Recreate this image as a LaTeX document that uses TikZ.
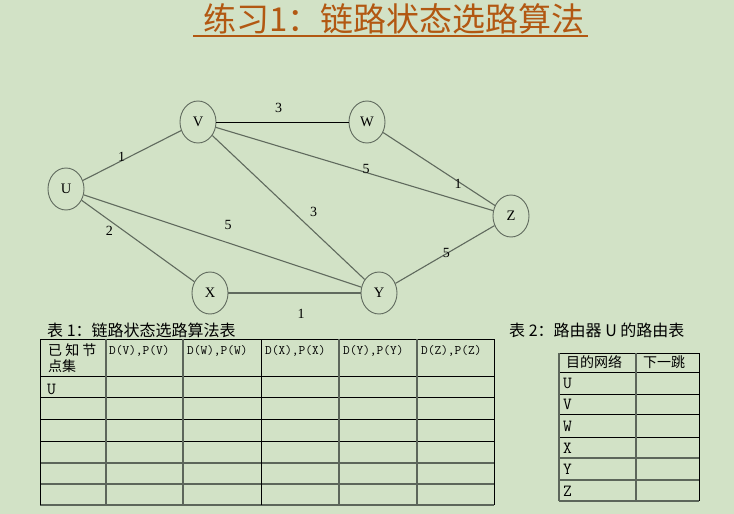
\documentclass[tikz,border=0pt]{standalone}
\usepackage{fontspec}
\setmainfont{Liberation Serif}
\newfontfamily\cjk{Noto Sans CJK SC}
\usepackage{tikz}
\usetikzlibrary{shapes.geometric}
\definecolor{bgcolor}{RGB}{210,226,198}
\definecolor{titlecolor}{RGB}{178,88,18}
\definecolor{edgegray}{RGB}{96,106,94}
\definecolor{griddark}{RGB}{92,102,90}

\begin{document}
\begin{tikzpicture}[x=1pt, y=-1pt,
    router/.style={ellipse, draw=edgegray, line width=0.9pt, minimum width=36pt,
        minimum height=42pt, inner sep=0pt, font=\fontsize{14.5}{14.5}\selectfont},
    link/.style={draw=edgegray, line width=1.1pt},
    weight/.style={inner sep=0pt, font=\fontsize{14}{14}\selectfont},
    gridblack/.style={draw=black, line width=0.9pt},
    griddark/.style={draw=griddark, line width=1.3pt},
    caption/.style={anchor=west, inner sep=0pt, font=\cjk\fontsize{16}{16}\selectfont},
    cell/.style={anchor=west, inner sep=0pt, font=\cjk\fontsize{14}{14}\selectfont},
    colhead/.style={anchor=west, inner sep=0pt, font=\ttfamily\fontsize{13}{13}\selectfont},
    rowname/.style={anchor=west, inner sep=0pt, font=\ttfamily\fontsize{17}{17}\selectfont}]

    % Background
    \fill[bgcolor] (0,0) rectangle (734,514);
    \useasboundingbox (0,0) rectangle (734,514);

    % Title
    \node[inner sep=0pt, text=titlecolor, font=\cjk\fontsize{33}{33}\selectfont]
        (title) at (394,18.5) {练习1：链路状态选路算法};
    \draw[titlecolor, line width=1.6pt] ([xshift=-10pt,yshift=-2pt]title.south west)
        -- ([xshift=3pt,yshift=-2pt]title.south east);

    % Routers
    \node[router] (U) at (66,189) {U};
    \node[router] (V) at (198,122) {V};
    \node[router] (W) at (367,122) {W};
    \node[router] (X) at (210,293) {X};
    \node[router] (Y) at (379,293) {Y};
    \node[router] (Z) at (511,216) {Z};

    % Links with costs
    \draw[link] (U) -- node[weight, pos=0.41, shift={(-1.6,-3.2)}] {1} (V);
    \draw[link] (U) -- node[weight, pos=0.29, shift={(-5,7)}] {2} (X);
    \draw[link] (U) -- node[weight, pos=0.5, shift={(5.5,-16.4)}] {5} (Y);
    \draw[black, line width=0.8pt] (V) -- node[weight, pos=0.47, shift={(0,-14)}] {3} (W);
    \draw[link] (V) -- node[weight, pos=0.54, shift={(0.5,-3)}] {5} (Z);
    \draw[link] (V) -- node[weight, pos=0.6, shift={(9.8,-10.4)}] {3} (Y);
    \draw[link] (W) -- node[weight, pos=0.68, shift={(-1,2)}] {1} (Z);
    \draw[link] (X) -- node[weight, pos=0.55, shift={(0,21)}] {1} (Y);
    \draw[link] (Y) -- node[weight, pos=0.51, shift={(0.5,-1)}] {5} (Z);

    % Table 1
    \node[caption] (cap1) at (47,330) {表 1：链路状态选路算法表};
    \foreach \y in {339,376,397,419,441}
        \draw[gridblack] (40,\y) -- (494,\y);
    \foreach \y in {463,484,505}
        \draw[griddark] (40,\y) -- (494,\y);
    \foreach \x in {40,261,494}
        \draw[gridblack] (\x,339) -- (\x,505);
    \foreach \x in {106,183,339,417}
        \draw[griddark] (\x,339) -- (\x,505);
    \node[cell] (known1) at (48,350) {已 知 节};
    \node[cell] (known2) at (48,366) {点集};
    \foreach \x/\n in {109/V,187/W,265/X,343/Y,421/Z}
        \node[colhead] (col\n) at (\x,351) {D(\n),P(\n)};
    \node[rowname] (startU) at (47,389) {U};

    % Table 2
    \node[caption] (cap2) at (509,330) {表 2：路由器 U 的路由表};
    \foreach \y in {353,372,394,414,437}
        \draw[gridblack] (559,\y) -- (699,\y);
    \foreach \y in {458,480,501}
        \draw[griddark] (559,\y) -- (699,\y);
    \foreach \x in {559,636}
        \draw[griddark] (\x,353) -- (\x,501);
    \draw[gridblack] (699,353) -- (699,501);
    \node[cell] (dest) at (566,362) {目的网络};
    \node[cell] (hop) at (643,362) {下一跳};
    \foreach \n/\y in {U/383,V/404,W/426,X/448,Y/469,Z/491}
        \node[rowname] (dst\n) at (563,\y) {\n};
\end{tikzpicture}
\end{document}
